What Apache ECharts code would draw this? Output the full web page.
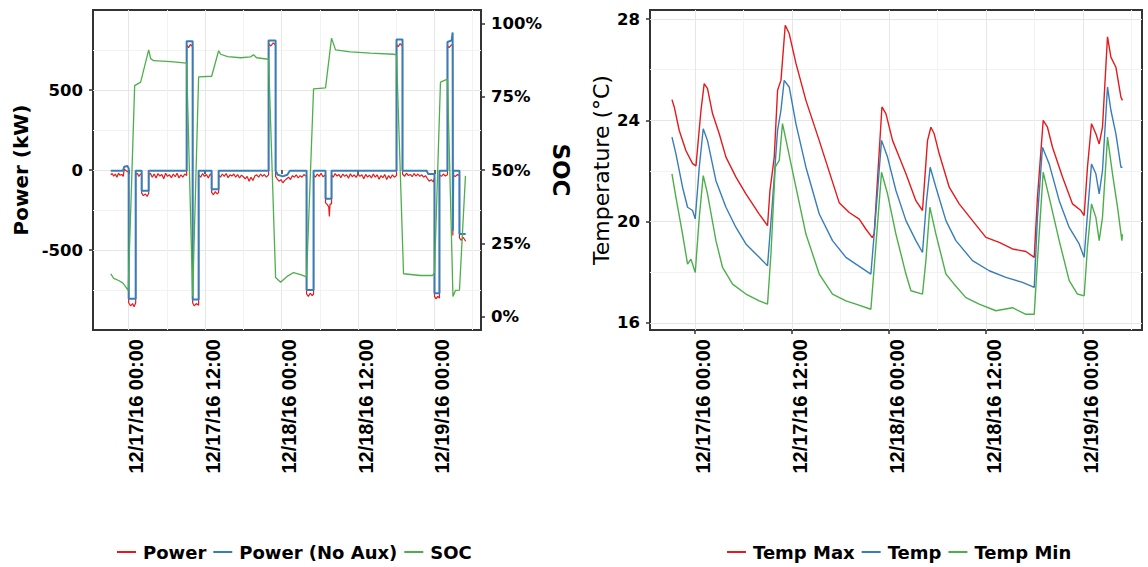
<!DOCTYPE html>
<html><head><meta charset="utf-8">
<script src="https://cdn.jsdelivr.net/npm/echarts@6/dist/echarts.min.js"></script>
<style>html,body{margin:0;padding:0;background:#fff}#c{width:1148px;height:567px}</style>
</head><body><div id="c"></div>
<script>
// Time is given in hours since 12/17/16 00:00
const BASE = Date.UTC(2016, 11, 17, 0, 0);
const HOUR = 3600000;
const xRangeHours = [-5.6, 55.3];
const xMajorHours = [0, 12, 24, 36, 48];
const xGridHours = [0, 6, 12, 18, 24, 30, 36, 42, 48, 54];
const powerRange = [-1000, 1000];
const powerMajor = [-500, 0, 500];
const powerGrid = [-750, -500, -250, 0, 250, 500, 750];
const socRange = [-4.6, 104.6];
const socTicks = [0, 25, 50, 75, 100];
const tempRange = [15.72, 28.36];
const tempMajor = [16, 20, 24, 28];
const tempGrid = [16, 18, 20, 22, 24, 26, 28];

// [hours, kW]
const powerKW = [[-2.82,-30],[-2.6,-22],[-2.35,-38],[-2.1,-25],[-1.85,-45],[-1.6,-20],[-1.35,-33],[-1.1,-28],[-0.85,-40],[-0.7,5],[-0.4,-5],[-0.15,-10],[0,-15],
[0,-830],[0.3,-850],[0.6,-835],[0.85,-855],[1.1,-830],
[1.1,-30],[1.35,-20],[1.6,-40],[1.85,-25],[2.04,-30],
[2.04,-145],[2.3,-160],[2.6,-150],[2.9,-165],[3.14,-145],
[3.14,-30],[3.4,-20],[3.7,-45],[4.0,-25],[4.3,-50],[4.6,-22],[4.9,-38],[5.2,-28],[5.5,-55],[5.8,-20],[6.1,-40],[6.4,-30],[6.7,-48],[7.0,-25],[7.3,-42],[7.6,-20],[7.9,-50],[8.2,-30],[8.5,-45],[8.8,-25],[9.1,-35],
[9.1,780],[9.4,765],[9.7,785],[10.04,770],
[10.04,-830],[10.3,-850],[10.6,-835],[10.98,-845],
[10.98,-30],[11.3,-45],[11.6,-22],[11.9,-40],[12.2,-28],[12.5,-50],[12.8,-25],[13.02,-35],
[13.02,-140],[13.3,-155],[13.6,-135],[13.9,-150],[14.12,-140],
[14.12,-30],[14.4,-45],[14.7,-25],[15.0,-40],[15.3,-22],[15.6,-48],[15.9,-30],[16.2,-38],[16.5,-25],[16.8,-45],[17.1,-28],[17.4,-50],[17.7,-32],[18.0,-42],[18.3,-55],[18.6,-40],[18.9,-70],[19.2,-45],[19.5,-65],[19.8,-38],[20.1,-30],[20.4,-45],[20.7,-25],[21.0,-40],[21.3,-28],[21.6,-45],[21.96,-30],
[21.96,790],[22.3,775],[22.7,795],[23.06,780],
[23.06,-40],[23.3,-55],[23.6,-70],[23.9,-60],[24.2,-80],[24.5,-65],[24.8,-55],[25.1,-45],[25.4,-60],[25.7,-35],[26.0,-45],[26.3,-30],[26.6,-50],[26.9,-35],[27.2,-45],[27.5,-28],[27.92,-40],
[27.92,-775],[28.2,-790],[28.5,-770],[28.8,-785],[29.02,-775],
[29.02,-30],[29.3,-45],[29.6,-25],[29.9,-40],[30.2,-20],[30.5,-42],[30.9,-30],
[30.9,-205],[31.15,-215],[31.4,-230],[31.5,-290],[31.6,-215],[31.84,-210],
[31.84,-30],[32.1,-45],[32.4,-22],[32.7,-38],[33.0,-28],[33.3,-48],[33.6,-25],[33.9,-40],[34.2,-30],[34.5,-52],[34.8,-24],[35.1,-42],[35.4,-30],[35.7,-46],[36.0,-26],[36.3,-40],[36.6,-30],[36.9,-55],[37.2,-28],[37.5,-44],[37.8,-32],[38.1,-50],[38.4,-25],[38.7,-45],[39.0,-30],[39.3,-58],[39.6,-35],[39.9,-48],[40.2,-28],[40.5,-60],[40.8,-35],[41.1,-52],[41.4,-30],[41.7,-45],[42.04,-35],
[42.04,785],[42.3,770],[42.6,790],[42.98,775],
[42.98,-25],[43.3,-40],[43.6,-20],[43.9,-35],[44.2,-28],[44.5,-42],[44.8,-22],[45.1,-38],[45.4,-25],[45.7,-40],[46.0,-30],[46.3,-45],[46.6,-35],[46.9,-55],[47.2,-70],[47.5,-60],[47.8,-75],[48.0,-50],
[48.0,-790],[48.25,-805],[48.5,-790],[48.78,-800],
[48.78,-30],[49.1,-40],[49.4,-25],[49.7,-38],[50.04,-30],
[50.04,775],[50.3,765],[50.6,780],[50.85,785],
[50.88,-410],[50.95,-35],[51.3,-40],[51.6,-28],[51.92,-35],
[51.92,-425],[52.2,-440],[52.5,-420],[52.9,-445]];

// [hours, kW]
const powerNoAuxKW = [[-2.82,-5],[-0.9,-5],[-0.7,20],[-0.2,25],[0,10],[0,-805],[1.1,-805],[1.1,-5],[2.04,-5],[2.04,-130],[3.14,-130],[3.14,-5],
[9.1,-5],[9.1,805],[10.04,805],[10.04,-810],[10.98,-810],[10.98,-5],[13.02,-5],[13.02,-120],[14.12,-120],[14.12,-5],
[21.96,-5],[21.96,810],[23.06,810],[23.06,-5],[23.4,-30],[24.2,-40],[24.9,-30],[25.3,-5],[27.92,-5],[27.92,-750],[29.02,-750],[29.02,-5],
[30.9,-5],[30.9,-180],[31.84,-180],[31.84,-5],[42.04,-5],[42.04,815],[42.98,815],[42.98,-5],[46.8,-5],[47.0,-25],[48.0,-25],
[48.0,-770],[48.78,-770],[48.78,-5],[50.04,-5],[50.04,800],[50.7,810],[50.85,860],[50.88,-380],[50.95,-5],[51.92,-5],[51.92,-400],[52.9,-400]];

// [hours, %]
const socPct = [[-2.82,14.6],[-2.35,13.0],[-1.57,12.3],[-0.94,11.5],[-0.63,10.6],[-0.08,8.9],[0.94,78.8],[1.88,80.0],[3.14,91.0],[3.45,88.0],[3.92,87.3],[6.59,87.0],[9.1,86.5],[10.04,7.0],[10.98,81.8],[13.02,82.0],[14.12,90.7],[14.43,89.5],[15.53,88.7],[17.57,88.3],[19.14,88.6],[19.6,89.3],[20.08,88.3],[21.96,87.8],[23.06,13.3],[23.84,11.7],[24.94,13.8],[25.88,15.0],[26.98,14.3],[27.92,13.5],[29.02,77.7],[30.9,78.0],[31.84,95.0],[32.47,91.0],[34.82,90.3],[37.96,89.9],[41.57,89.5],[42.04,89.3],[43.14,14.6],[45.8,14.0],[47.69,14.0],[48.0,15.0],[48.94,80.0],[50.04,81.0],[50.9,6.8],[51.29,8.9],[51.92,9.0],[52.86,48.0]];

// [hours, degC]
const tempMaxC = [[-2.88,24.82],[-2.6,24.53],[-1.98,23.6],[-1.15,22.8],[-0.33,22.29],[0.09,22.2],[0.71,24.4],[1.11,25.45],[1.52,25.25],[2.14,24.27],[2.97,23.47],[3.8,22.55],[5.04,21.76],[6.27,21.1],[7.92,20.3],[8.95,19.84],[9.25,21.23],[9.78,22.55],[10.19,25.19],[10.61,25.58],[11.14,27.76],[11.63,27.43],[12.46,26.26],[13.7,24.79],[15.35,23.2],[16.96,21.6],[17.82,20.75],[19.06,20.36],[20.3,20.1],[21.13,19.7],[21.91,19.37],[22.15,19.52],[23.11,24.53],[23.6,24.27],[24.42,23.21],[25.25,22.55],[26.08,21.89],[27.31,20.83],[28.13,20.44],[28.75,23.2],[29.17,23.73],[29.58,23.47],[30.2,22.68],[31.44,21.36],[32.67,20.7],[34.32,20.04],[35.98,19.38],[37.62,19.18],[39.27,18.92],[40.93,18.82],[41.96,18.59],[42.36,20.96],[43.07,24.0],[43.6,23.73],[44.22,22.94],[45.46,21.76],[46.7,20.7],[47.74,20.44],[48.14,20.24],[48.55,22.15],[49.05,23.87],[49.59,23.47],[50.0,23.07],[50.41,23.73],[51.03,27.3],[51.45,26.5],[52.07,26.1],[52.69,24.92],[52.88,24.79]];
const tempC = [[-2.88,23.34],[-2.39,22.68],[-1.57,21.36],[-0.95,20.57],[-0.33,20.44],[0.0,20.11],[0.5,22.15],[0.99,23.67],[1.52,23.2],[2.56,21.62],[3.8,20.57],[5.04,19.77],[6.27,19.12],[7.92,18.59],[8.95,18.26],[9.57,20.83],[10.19,23.6],[10.61,24.4],[11.01,25.58],[11.63,25.32],[12.46,23.87],[13.7,22.15],[15.35,20.3],[16.99,19.25],[18.65,18.59],[19.89,18.32],[21.74,17.93],[22.15,19.51],[23.06,23.21],[23.8,22.55],[24.84,21.23],[26.08,20.04],[27.31,19.25],[28.13,18.78],[28.63,20.83],[29.08,22.15],[29.79,21.36],[31.03,20.04],[32.26,19.25],[34.32,18.46],[36.39,18.06],[38.45,17.8],[40.51,17.6],[41.96,17.4],[42.36,20.17],[42.98,22.94],[43.81,22.28],[45.05,20.83],[46.29,19.77],[47.52,19.12],[48.14,18.59],[48.55,20.3],[49.05,22.28],[49.59,21.89],[50.0,21.1],[50.41,22.02],[51.03,25.32],[51.45,24.4],[52.07,23.47],[52.69,22.15],[52.88,22.15]];
const tempMinC = [[-2.88,21.89],[-2.39,20.96],[-1.57,19.51],[-0.95,18.32],[-0.53,18.52],[0.0,17.99],[0.5,20.17],[0.99,21.82],[1.52,21.1],[2.56,19.25],[3.38,18.19],[4.62,17.53],[6.27,17.14],[7.92,16.87],[8.95,16.74],[9.37,18.72],[9.9,22.15],[10.4,22.42],[10.8,23.87],[11.42,22.94],[12.46,21.36],[13.7,19.51],[15.35,17.93],[16.99,17.14],[18.65,16.87],[19.89,16.74],[21.74,16.54],[22.15,18.19],[23.06,21.95],[23.8,21.1],[24.84,19.51],[26.08,17.93],[26.7,17.27],[28.13,17.14],[28.55,18.46],[29.04,20.57],[29.79,19.51],[31.03,17.93],[32.05,17.53],[33.5,17.0],[35.15,16.74],[37.21,16.48],[39.27,16.6],[40.93,16.34],[41.96,16.34],[42.36,18.46],[43.07,21.95],[43.81,20.96],[45.05,19.25],[46.29,17.67],[47.31,17.14],[48.14,17.07],[48.55,18.98],[49.05,20.7],[49.59,20.17],[50.0,19.25],[50.41,20.17],[51.03,23.34],[51.65,21.89],[52.27,20.57],[52.81,19.25],[52.88,19.5]];

const RED = '#E41A1C', BLUE = '#377EB8', GREEN = '#4DAF4A';
const MAJOR = '#e6e6e6', MINOR = '#f2f2f2';
const FONT = 'DejaVu Sans';

const ms = h => BASE + h * HOUR;
const toPts = arr => arr.map(p => [ms(p[0]), p[1]]);
const pad = n => String(n).padStart(2, '0');
function fmtTime(v) {
  const d = new Date(v);
  return pad(d.getUTCMonth() + 1) + '/' + pad(d.getUTCDate()) + '/' + String(d.getUTCFullYear()).slice(2) +
    ' ' + pad(d.getUTCHours()) + ':' + pad(d.getUTCMinutes());
}

const tickStyle = {color: '#333', width: 1.5};
function xBase(gi) {
  return {type: 'value', gridIndex: gi, position: 'bottom', min: ms(xRangeHours[0]), max: ms(xRangeHours[1]),
    axisLine: {show: false}, axisTick: {show: false, customValues: xGridHours.map(ms)},
    axisLabel: {show: false}, splitLine: {show: true, lineStyle: {color: [MAJOR, MINOR], width: 1}}};
}
function xOver(gi) {
  return {type: 'value', gridIndex: gi, position: 'bottom', min: ms(xRangeHours[0]), max: ms(xRangeHours[1]),
    axisLine: {show: false},
    axisTick: {show: true, length: 4, customValues: xMajorHours.map(ms), lineStyle: tickStyle},
    axisLabel: {show: true, customValues: xMajorHours.map(ms), formatter: v => fmtTime(v), rotate: 90, margin: 9,
      verticalAlign: 'top', lineHeight: 15,
      fontFamily: 'Liberation Sans', fontWeight: 'bold', fontSize: 20, color: '#000'},
    splitLine: {show: false}};
}
const yLabel = {fontFamily: FONT, fontWeight: 'bold', fontSize: 16.5, color: '#000', margin: 10};
const legendBase = {icon: 'rect', itemWidth: 19, itemHeight: 2, itemGap: 7, top: 538,
  textStyle: {fontFamily: FONT, fontWeight: 'bold', fontSize: 18, color: '#000', padding: [0, 0, 0, 2]}};

const option = {
  animation: false,
  textStyle: {fontFamily: FONT},
  grid: [
    {left: 93, top: 10, width: 388, height: 320, show: true, borderColor: '#333', borderWidth: 2, outerBoundsMode: 'none'},
    {left: 650, top: 10, width: 492, height: 320, show: true, borderColor: '#333', borderWidth: 2, outerBoundsMode: 'none'}
  ],
  legend: [
    Object.assign({data: ['Power', 'Power (No Aux)', 'SOC'], left: 112}, legendBase),
    Object.assign({data: ['Temp Max', 'Temp', 'Temp Min'], left: 722}, legendBase)
  ],
  xAxis: [xBase(0), xOver(0), xBase(1), xOver(1)],
  yAxis: [
    {type: 'value', gridIndex: 0, position: 'left', min: powerRange[0], max: powerRange[1],
      axisLine: {show: false}, axisTick: {show: false, customValues: powerGrid}, axisLabel: {show: false},
      splitLine: {show: true, lineStyle: {color: [MINOR, MAJOR], width: 1}}},
    {type: 'value', gridIndex: 0, position: 'left', min: powerRange[0], max: powerRange[1],
      name: 'Power (kW)', nameLocation: 'middle', nameGap: 62,
      nameTextStyle: {fontFamily: FONT, fontWeight: 'bold', fontSize: 20, color: '#000'},
      axisLine: {show: false}, axisTick: {show: true, length: 4, customValues: powerMajor, lineStyle: tickStyle},
      axisLabel: Object.assign({customValues: powerMajor}, yLabel), splitLine: {show: false}},
    {type: 'value', gridIndex: 0, position: 'right', min: socRange[0], max: socRange[1],
      name: 'SOC', nameLocation: 'middle', nameRotate: -90, nameGap: 68,
      nameTextStyle: {fontFamily: FONT, fontWeight: 'bold', fontSize: 23, color: '#000'},
      axisLine: {show: false}, axisTick: {show: true, length: 4, customValues: socTicks, lineStyle: tickStyle},
      axisLabel: Object.assign({customValues: socTicks, formatter: '{value}%'}, yLabel), splitLine: {show: false}},
    {type: 'value', gridIndex: 1, position: 'left', min: tempRange[0], max: tempRange[1],
      axisLine: {show: false}, axisTick: {show: false, customValues: tempGrid}, axisLabel: {show: false},
      splitLine: {show: true, lineStyle: {color: [MAJOR, MINOR], width: 1}}},
    {type: 'value', gridIndex: 1, position: 'left', min: tempRange[0], max: tempRange[1],
      name: 'Temperature (°C)', nameLocation: 'middle', nameGap: 38,
      nameTextStyle: {fontFamily: FONT, fontWeight: 'normal', fontSize: 22, color: '#000'},
      axisLine: {show: false}, axisTick: {show: true, length: 4, customValues: tempMajor, lineStyle: tickStyle},
      axisLabel: Object.assign({customValues: tempMajor}, yLabel), splitLine: {show: false}}
  ],
  series: [
    {name: 'Power', type: 'line', xAxisIndex: 0, yAxisIndex: 0, data: toPts(powerKW), showSymbol: false, symbol: 'none',
      color: RED, lineStyle: {width: 1.2, color: RED}},
    {name: 'Power (No Aux)', type: 'line', xAxisIndex: 0, yAxisIndex: 0, data: toPts(powerNoAuxKW), showSymbol: false, symbol: 'none',
      color: BLUE, lineStyle: {width: 2, color: BLUE}},
    {name: 'SOC', type: 'line', xAxisIndex: 0, yAxisIndex: 2, data: toPts(socPct), showSymbol: false, symbol: 'none',
      color: GREEN, lineStyle: {width: 1.3, color: GREEN}},
    {name: 'Temp Max', type: 'line', xAxisIndex: 2, yAxisIndex: 3, data: toPts(tempMaxC), showSymbol: false, symbol: 'none',
      color: RED, lineStyle: {width: 1.4, color: RED}},
    {name: 'Temp', type: 'line', xAxisIndex: 2, yAxisIndex: 3, data: toPts(tempC), showSymbol: false, symbol: 'none',
      color: BLUE, lineStyle: {width: 1.4, color: BLUE}},
    {name: 'Temp Min', type: 'line', xAxisIndex: 2, yAxisIndex: 3, data: toPts(tempMinC), showSymbol: false, symbol: 'none',
      color: GREEN, lineStyle: {width: 1.4, color: GREEN}}
  ]
};
const chart = echarts.init(document.getElementById('c'), null, {renderer: 'svg'});
chart.setOption(option);
</script></body></html>
